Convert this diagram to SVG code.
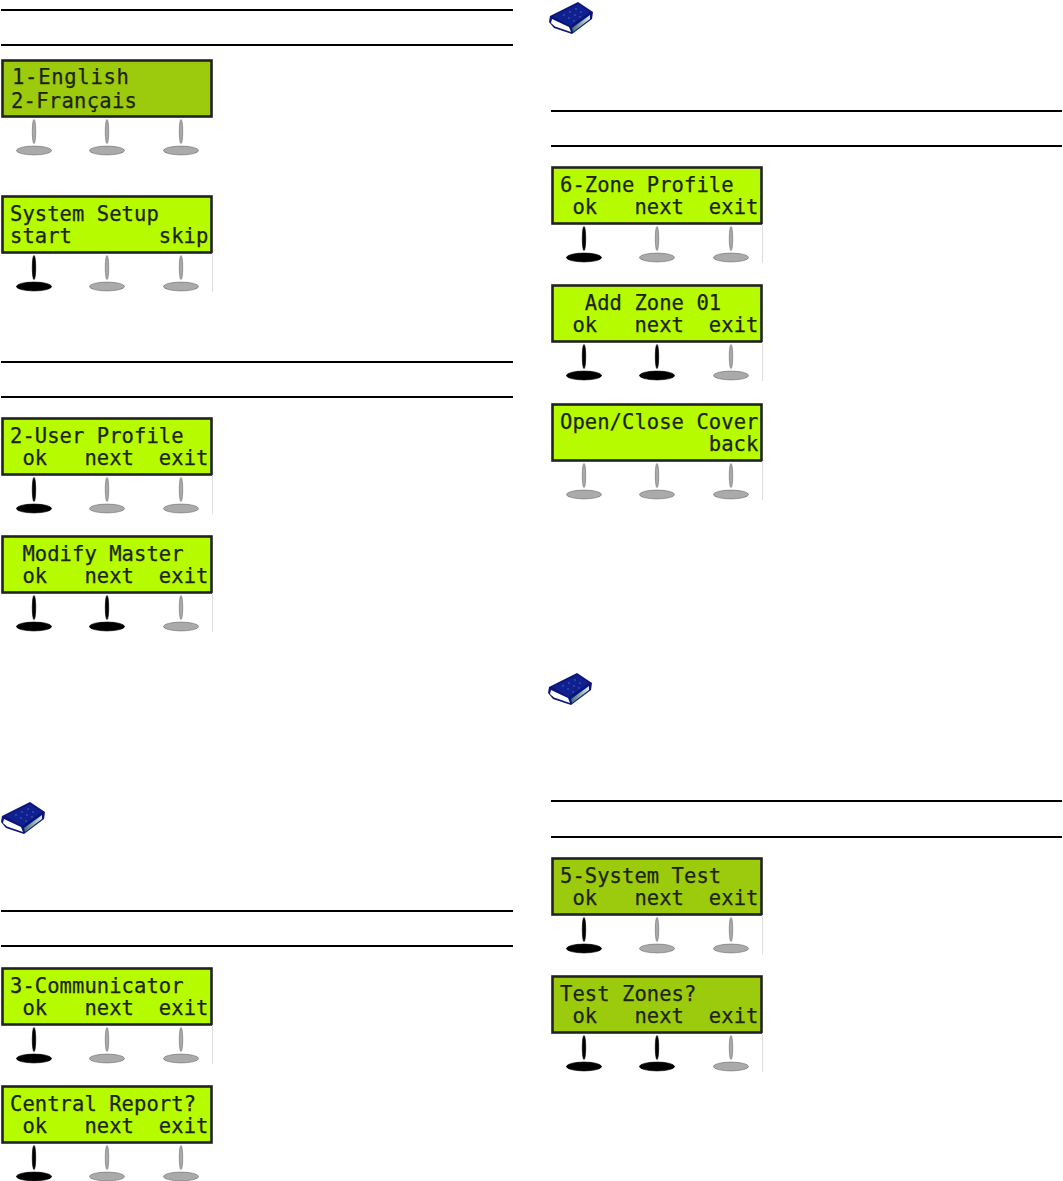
<svg xmlns="http://www.w3.org/2000/svg" width="1063" height="1181" viewBox="0 0 1063 1181">
<style>
.rule{stroke:#000;stroke-width:2;fill:none}
.lcd{font-family:"DejaVu Sans Mono","Liberation Mono",monospace;font-size:20.5px;fill:#1c2408;stroke:#1c2408;stroke-width:.25;white-space:pre;letter-spacing:0.06px}
.frame{stroke:#222;stroke-width:2.6}
.bright{fill:#b6fb00}
.dim{fill:#9ccb0e}
.up{fill:#aaa;stroke:#777;stroke-width:.7}
.down{fill:#000;stroke:#000;stroke-width:.7}
.edge{stroke:#ddd;stroke-width:1}
</style>
<defs>
<linearGradient id="spine" x1="0" y1="0" x2="1" y2="0"><stop offset="0" stop-color="#3d6f78"/><stop offset="1" stop-color="#dfe8e8"/></linearGradient>
<g id="keyUp"><ellipse class="up" cx="0" cy="0" rx="1.7" ry="12" transform="translate(0,-19)"/><ellipse class="up" cx="0" cy="0" rx="17.5" ry="4.4"/></g>
<g id="keyDown"><ellipse class="down" cx="0" cy="0" rx="1.7" ry="12" transform="translate(0,-19)"/><ellipse class="down" cx="0" cy="0" rx="17.5" ry="4.4"/></g>
<g id="book">
<path d="M10 15 L38 1 L53 11 L52 18 L32 33 L14 27 L9 21Z" fill="#0a1478"/>
<path d="M13 15 L38 3 L50 11 L30 25Z" fill="#10208f"/>
<path d="M12 18 L29 26 L31 31 L15 25.500 L11 22Z" fill="#fff"/>
<path d="M32 27 L50 14 L50 18 L33 31Z" fill="url(#spine)"/>
<g fill="#4d6bd0"><circle cx="24" cy="14" r=".8"/><circle cx="30" cy="11" r=".8"/><circle cx="36" cy="8" r=".8"/><circle cx="29" cy="17" r=".8"/><circle cx="35" cy="14" r=".8"/><circle cx="41" cy="11" r=".8"/><circle cx="34" cy="20" r=".8"/><circle cx="40" cy="16" r=".8"/></g>
</g>
</defs>
<g id="rules">
<path class="rule" d="M1 10H513M1 45H513M1 362H513M1 397H513M1 911H513M1 946H513M551 111H1062M551 146H1062M551 801H1062M551 837H1062"/>
</g>
<g id="book1"><use href="#book" x="540" y="1"/></g>
<g id="book2"><use href="#book" x="539" y="672"/></g>
<g id="book3"><use href="#book" x="-8" y="801"/></g>

<g id="lcd-language" transform="translate(0,60)">
<rect class="frame dim" x="2.500" y="0.500" width="209" height="56"/>
<text class="lcd" x="12" y="24" textLength="117">1-English</text><text class="lcd" x="11" y="48" textLength="126">2-Français</text>
<use href="#keyUp" x="34" y="90.500"/><use href="#keyUp" x="107" y="90.500"/><use href="#keyUp" x="181" y="90.500"/>
</g>
<g id="lcd-setup" transform="translate(0,196)">
<rect class="frame bright" x="2.500" y="0.500" width="209" height="56"/>
<text class="lcd" x="10" y="25">System Setup</text><text class="lcd" x="10" y="47">start</text><text class="lcd" x="158.800" y="47">skip</text>
<use href="#keyDown" x="34" y="90.500"/><use href="#keyUp" x="107" y="90.500"/><use href="#keyUp" x="181" y="90.500"/>
<path class="edge" d="M212.500 57V96"/>
</g>
<g id="lcd-user" transform="translate(0,418)">
<rect class="frame bright" x="2.500" y="0.500" width="209" height="56"/>
<text class="lcd" x="10" y="25">2-User Profile</text><text class="lcd" x="10" y="47"> ok   next  exit</text>
<use href="#keyDown" x="34" y="90.500"/><use href="#keyUp" x="107" y="90.500"/><use href="#keyUp" x="181" y="90.500"/>
<path class="edge" d="M212.500 57V96"/>
</g>
<g id="lcd-master" transform="translate(0,536)">
<rect class="frame bright" x="2.500" y="0.500" width="209" height="56"/>
<text class="lcd" x="10" y="25"> Modify Master</text><text class="lcd" x="10" y="47"> ok   next  exit</text>
<use href="#keyDown" x="34" y="90.500"/><use href="#keyDown" x="107" y="90.500"/><use href="#keyUp" x="181" y="90.500"/>
<path class="edge" d="M212.500 57V96"/>
</g>
<g id="lcd-comm" transform="translate(0,968)">
<rect class="frame bright" x="2.500" y="0.500" width="209" height="56"/>
<text class="lcd" x="10" y="25">3-Communicator</text><text class="lcd" x="10" y="47"> ok   next  exit</text>
<use href="#keyDown" x="34" y="90.500"/><use href="#keyUp" x="107" y="90.500"/><use href="#keyUp" x="181" y="90.500"/>
<path class="edge" d="M212.500 57V96"/>
</g>
<g id="lcd-central" transform="translate(0,1086)">
<rect class="frame bright" x="2.500" y="0.500" width="209" height="56"/>
<text class="lcd" x="10" y="25">Central Report?</text><text class="lcd" x="10" y="47"> ok   next  exit</text>
<use href="#keyDown" x="34" y="90.500"/><use href="#keyUp" x="107" y="90.500"/><use href="#keyUp" x="181" y="90.500"/>
</g>
<g id="lcd-zone" transform="translate(550,167)">
<rect class="frame bright" x="2.500" y="0.500" width="209" height="56"/>
<text class="lcd" x="10" y="25">6-Zone Profile</text><text class="lcd" x="10" y="47"> ok   next  exit</text>
<use href="#keyDown" x="34" y="90.500"/><use href="#keyUp" x="107" y="90.500"/><use href="#keyUp" x="181" y="90.500"/>
<path class="edge" d="M212.500 57V96"/>
</g>
<g id="lcd-addzone" transform="translate(550,285)">
<rect class="frame bright" x="2.500" y="0.500" width="209" height="56"/>
<text class="lcd" x="10" y="25">  Add Zone 01</text><text class="lcd" x="10" y="47"> ok   next  exit</text>
<use href="#keyDown" x="34" y="90.500"/><use href="#keyDown" x="107" y="90.500"/><use href="#keyUp" x="181" y="90.500"/>
<path class="edge" d="M212.500 57V96"/>
</g>
<g id="lcd-cover" transform="translate(550,404)">
<rect class="frame bright" x="2.500" y="0.500" width="209" height="56"/>
<text class="lcd" x="10" y="25">Open/Close Cover</text><text class="lcd" x="158.800" y="47">back</text>
<use href="#keyUp" x="34" y="90.500"/><use href="#keyUp" x="107" y="90.500"/><use href="#keyUp" x="181" y="90.500"/>
<path class="edge" d="M212.500 57V96"/>
</g>
<g id="lcd-systest" transform="translate(550,858)">
<rect class="frame dim" x="2.500" y="0.500" width="209" height="56"/>
<text class="lcd" x="10" y="25">5-System Test</text><text class="lcd" x="10" y="47"> ok   next  exit</text>
<use href="#keyDown" x="34" y="90.500"/><use href="#keyUp" x="107" y="90.500"/><use href="#keyUp" x="181" y="90.500"/>
<path class="edge" d="M212.500 57V96"/>
</g>
<g id="lcd-testzones" transform="translate(550,976)">
<rect class="frame dim" x="2.500" y="0.500" width="209" height="56"/>
<text class="lcd" x="10" y="25">Test Zones?</text><text class="lcd" x="10" y="47"> ok   next  exit</text>
<use href="#keyDown" x="34" y="90.500"/><use href="#keyDown" x="107" y="90.500"/><use href="#keyUp" x="181" y="90.500"/>
<path class="edge" d="M212.500 57V96"/>
</g>
</svg>
